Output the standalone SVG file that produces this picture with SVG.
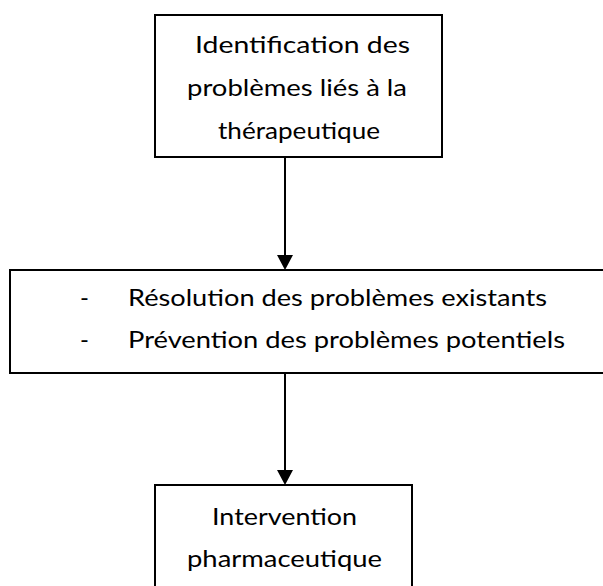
<svg xmlns="http://www.w3.org/2000/svg" width="603" height="586" viewBox="0 0 603 586">
  <style>
    .box { fill: #ffffff; stroke: #000000; stroke-width: 2; }
    .txt { font-family: Lato, "Liberation Sans", sans-serif; font-size: 24px; fill: #000000; }
    .conn { stroke: #000000; stroke-width: 2; fill: none; }
  </style>
  <defs>
    <marker id="arrow" markerUnits="userSpaceOnUse" markerWidth="15" markerHeight="16" viewBox="0 0 15 16" refX="1" refY="8" orient="auto">
      <polygon points="0,0 15,8 0,16" fill="#000000"/>
    </marker>
  </defs>
  <rect width="603" height="586" fill="#ffffff"/>
  <g id="connectors">
    <line class="conn" x1="285" y1="157" x2="285" y2="256" marker-end="url(#arrow)"/>
    <line class="conn" x1="285" y1="374" x2="285" y2="471" marker-end="url(#arrow)"/>
  </g>
  <g id="node-identification">
    <rect class="box" x="155" y="15" width="287" height="142"/>
    <text class="txt" x="195" y="53" textLength="215" lengthAdjust="spacingAndGlyphs">Identification des</text>
    <text class="txt" x="187" y="96" textLength="220" lengthAdjust="spacingAndGlyphs">problèmes liés à la</text>
    <text class="txt" x="218" y="139" textLength="162" lengthAdjust="spacingAndGlyphs">thérapeutique</text>
  </g>
  <g id="node-resolution">
    <rect class="box" x="10" y="270" width="620" height="103"/>
    <text class="txt" x="80" y="306">-</text>
    <text class="txt" x="128" y="306" textLength="419" lengthAdjust="spacingAndGlyphs">Résolution des problèmes existants</text>
    <text class="txt" x="80" y="348">-</text>
    <text class="txt" x="128" y="348" textLength="437" lengthAdjust="spacingAndGlyphs">Prévention des problèmes potentiels</text>
  </g>
  <g id="node-intervention">
    <rect class="box" x="155" y="485" width="257" height="120"/>
    <text class="txt" x="212" y="525" textLength="145" lengthAdjust="spacingAndGlyphs">Intervention</text>
    <text class="txt" x="187" y="567" textLength="195" lengthAdjust="spacingAndGlyphs">pharmaceutique</text>
  </g>
</svg>
